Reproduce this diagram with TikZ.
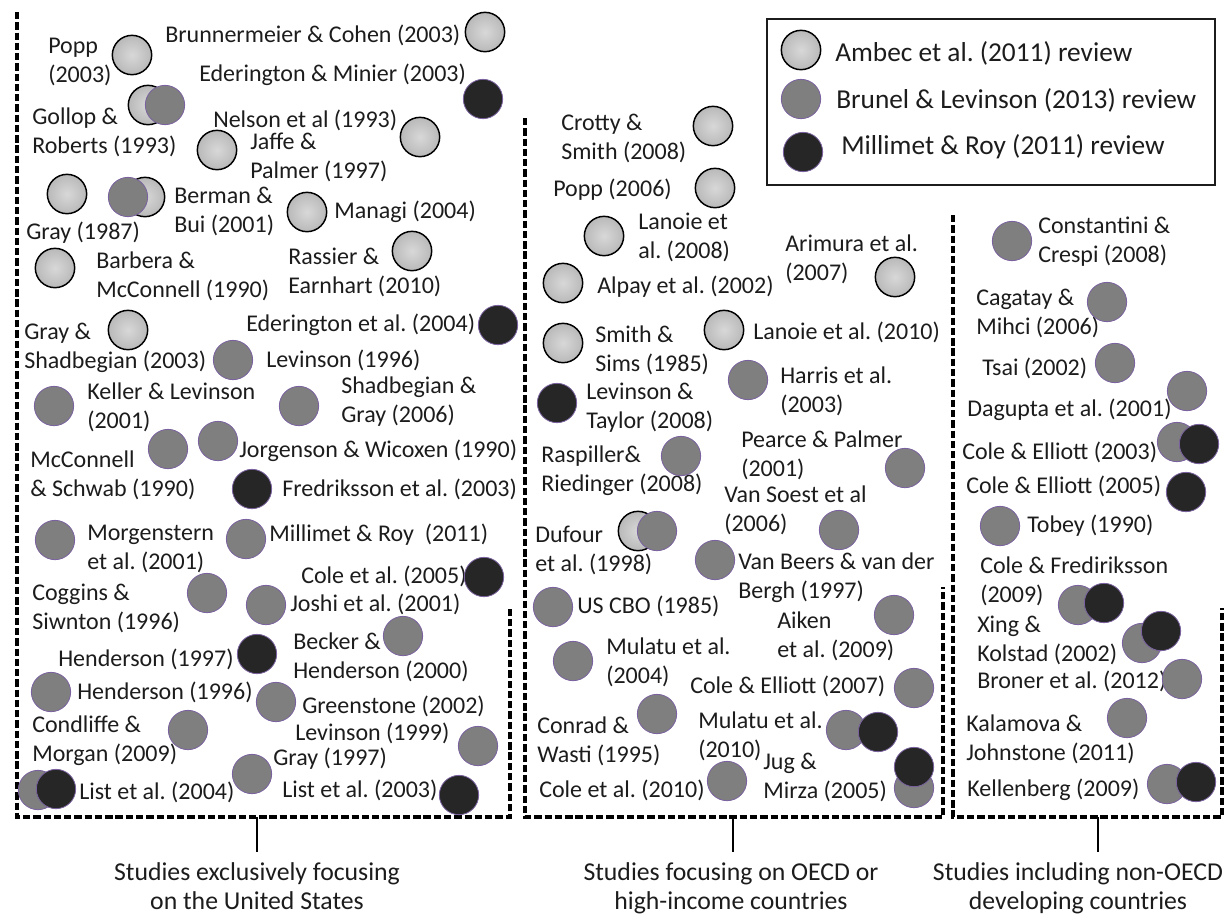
\documentclass[tikz,border=0pt]{standalone}
\usepackage{fontspec}
\setmainfont{Carlito}
\usepackage{xcolor}
\usepackage{tikz}
\definecolor{ambeclight}{HTML}{D8D8D8}
\definecolor{ambecedge}{HTML}{B9B9B9}
\definecolor{brunelgray}{HTML}{7F7F7F}
\definecolor{millimetdark}{HTML}{262626}
\definecolor{rimpurple}{HTML}{7A62A0}
\definecolor{inkgray}{HTML}{1C1C1C}
\frenchspacing

\tikzset{
  ambec/.style={circle, minimum size=29.5pt, inner sep=0pt, draw=black, line width=1.1pt,
    inner color=ambeclight, outer color=ambecedge},
  brunel/.style={circle, minimum size=29.5pt, inner sep=0pt, fill=brunelgray, draw=rimpurple, line width=0.6pt},
  millimet/.style={circle, minimum size=29.5pt, inner sep=0pt, fill=millimetdark, draw=rimpurple, line width=0.6pt},
  study/.style={anchor=west, inner sep=0pt, align=left, text=inkgray, font=\fontsize{18}{21.75}\selectfont},
  keytext/.style={anchor=west, inner sep=0pt, text=inkgray, font=\fontsize{20.5}{24}\selectfont},
  groupcap/.style={anchor=north, inner sep=0pt, align=center, text=inkgray, font=\fontsize{19.3}{22.2}\selectfont},
  groupframe/.style={line width=2.5pt, dash pattern=on 5.5pt off 2.2pt},
  grouptick/.style={line width=2pt},
}

\begin{document}
\begin{tikzpicture}[x=0.75pt, y=-0.75pt]
    \useasboundingbox (0,0) rectangle (1231,915);

    \draw[groupframe] (17,12) -- (17,817) -- (510,817) -- (510,608);
    \draw[groupframe] (525,118) -- (525,817) -- (943,817) -- (943,587);
    \draw[groupframe] (953,215) -- (953,817) -- (1222,817) -- (1222,608);

    \draw[line width=1pt, draw=inkgray] (767,19) rectangle (1215,185);
    \node[ambec] (key-ambec) at (801,50) {};
    \node[brunel] (key-brunel) at (801,99) {};
    \node[millimet] (key-millimet) at (803,152) {};
    \node[keytext] (key-ambec-txt) at (835,53) {Ambec et al. (2011) review};
    \node[keytext] (key-brunel-txt) at (836,100) {Brunel \& Levinson (2013) review};
    \node[keytext] (key-millimet-txt) at (841,147) {Millimet \& Roy (2011) review};

    \node[study] (brunner-txt) at (165,35) {Brunnermeier \& Cohen (2003)};
    \node[study] (popp03-txt) at (48,62) {Popp\\(2003)};
    \node[study] (ederminier-txt) at (199,75) {Ederington \& Minier (2003)};
    \node[study] (gollop-txt) at (32,132) {Gollop \&\\Roberts (1993)};
    \node[study] (nelson-txt) at (213,120) {Nelson et al (1993)};
    \node[study] (jaffe-txt) at (250,157) {Jaffe \&\\Palmer (1997)};
    \node[study] (gray87-txt) at (26,233) {Gray (1987)};
    \node[study] (berman-txt) at (174,211) {Berman \&\\Bui (2001)};
    \node[study] (managi-txt) at (334,212) {Managi (2004)};
    \node[study] (rassier-txt) at (288,272) {Rassier \&\\Earnhart (2010)};
    \node[study] (barbera-txt) at (96,276) {Barbera \&\\McConnell (1990)};
    \node[study] (grayshad-txt) at (24,348) {Gray \&\\Shadbegian (2003)};
    \node[study] (eder04-txt) at (246,325) {Ederington et al. (2004)};
    \node[study] (lev96-txt) at (266,360) {Levinson (1996)};
    \node[study] (keller-txt) at (87,407) {Keller \& Levinson\\(2001)};
    \node[study] (shadgray-txt) at (341,402) {Shadbegian \&\\Gray (2006)};
    \node[study] (mcconnell-txt) at (30,475) {McConnell\\\& Schwab (1990)};
    \node[study] (jorgenson-txt) at (239,451) {Jorgenson \& Wicoxen (1990)};
    \node[study] (fredrik-txt) at (282,489) {Fredriksson et al. (2003)};
    \node[study] (morgen-txt) at (87,549) {Morgenstern\\et al. (2001)};
    \node[study] (millroy-txt) at (269,535) {Millimet \& Roy~ (2011)};
    \node[study] (cole05-txt) at (301,576) {Cole et al. (2005)};
    \node[study] (coggins-txt) at (32,608) {Coggins \&\\Siwnton (1996)};
    \node[study] (joshi-txt) at (290,604) {Joshi et al. (2001)};
    \node[study] (becker-txt) at (293,657) {Becker \&\\Henderson (2000)};
    \node[study] (hend97-txt) at (58,659) {Henderson (1997)};
    \node[study] (hend96-txt) at (77,692) {Henderson (1996)};
    \node[study] (greenst-txt) at (302,706) {Greenstone (2002)};
    \node[study] (condliffe-txt) at (32,741) {Condliffe \&\\Morgan (2009)};
    \node[study] (lev99-txt) at (295,733) {Levinson (1999)};
    \node[study] (gray97-txt) at (273,759) {Gray (1997)};
    \node[study] (list04-txt) at (79,792) {List et al. (2004)};
    \node[study] (list03-txt) at (282,790) {List et al. (2003)};

    \node[ambec] (brunner) at (485,32) {};
    \node[ambec] (popp03) at (132,55) {};
    \node[millimet] (ederminier) at (483,99) {};
    \node[ambec] (gollop-a) at (148,105) {};
    \node[brunel] (gollop-b) at (165,105) {};
    \node[ambec] (nelson) at (420,137) {};
    \node[ambec] (jaffe) at (217,150) {};
    \node[ambec] (gray87) at (67,194) {};
    \node[ambec] (berman-a) at (145,197) {};
    \node[brunel] (berman-b) at (128,197) {};
    \node[ambec] (managi) at (307,212) {};
    \node[ambec] (rassier) at (412,251) {};
    \node[ambec] (barbera) at (55,268) {};
    \node[ambec] (grayshad) at (128,330) {};
    \node[millimet] (eder04) at (498,325) {};
    \node[brunel] (lev96) at (233,360) {};
    \node[brunel] (keller) at (54,406) {};
    \node[brunel] (shadgray) at (299,406) {};
    \node[brunel] (mcconnell) at (168,449) {};
    \node[brunel] (jorgenson) at (218,441) {};
    \node[millimet] (fredrik) at (252,489) {};
    \node[brunel] (morgen) at (55,540) {};
    \node[brunel] (millroy) at (246,539) {};
    \node[millimet] (cole05) at (484,577) {};
    \node[brunel] (coggins) at (207,593) {};
    \node[brunel] (joshi) at (266,605) {};
    \node[brunel] (becker) at (403,636) {};
    \node[millimet] (hend97) at (257,654) {};
    \node[brunel] (hend96) at (51,692) {};
    \node[brunel] (greenst) at (276,702) {};
    \node[brunel] (condliffe) at (188,730) {};
    \node[brunel] (lev99) at (478,746) {};
    \node[brunel] (gray97) at (252,774) {};
    \node[brunel] (list04-b) at (38,790) {};
    \node[millimet] (list04-m) at (56,789) {};
    \node[millimet] (list03) at (459,795) {};

    \node[study] (crotty-txt) at (561,138) {Crotty \&\\Smith (2008)};
    \node[study] (popp06-txt) at (553,190) {Popp (2006)};
    \node[study] (lanoie08-txt) at (638,237) {Lanoie et\\al. (2008)};
    \node[study] (arimura-txt) at (785,259) {Arimura et al.\\(2007)};
    \node[study] (alpay-txt) at (597,287) {Alpay et al. (2002)};
    \node[study] (lanoie10-txt) at (753,332) {Lanoie et al. (2010)};
    \node[study] (smith-txt) at (595,350) {Smith \&\\Sims (1985)};
    \node[study] (harris-txt) at (780,391) {Harris et al.\\(2003)};
    \node[study] (levtaylor-txt) at (586,408) {Levinson \&\\Taylor (2008)};
    \node[study] (raspiller-txt) at (541,471) {Raspiller\&\\Riedinger (2008)};
    \node[study] (pearce-txt) at (741,455) {Pearce \& Palmer\\(2001)};
    \node[study] (vansoest-txt) at (724,510) {Van Soest et al\\(2006)};
    \node[study] (dufour-txt) at (535,550) {Dufour\\et al. (1998)};
    \node[study] (vanbeers-txt) at (738,578) {Van Beers \& van der\\Bergh (1997)};
    \node[study] (uscbo-txt) at (577,606) {US CBO (1985)};
    \node[study] (aiken-txt) at (777,636) {Aiken\\et al. (2009)};
    \node[study] (mulatu04-txt) at (606,662) {Mulatu et al.\\(2004)};
    \node[study] (cole07-txt) at (690,686) {Cole \& Elliott (2007)};
    \node[study] (conrad-txt) at (537,741) {Conrad \&\\Wasti (1995)};
    \node[study] (mulatu10-txt) at (698,736) {Mulatu et al.\\(2010)};
    \node[study] (jug-txt) at (763,777) {Jug \&\\Mirza (2005)};
    \node[study] (cole10-txt) at (539,790) {Cole et al. (2010)};

    \node[ambec] (crotty) at (713,126) {};
    \node[ambec] (popp06) at (715,188) {};
    \node[ambec] (lanoie08) at (604,236) {};
    \node[ambec] (arimura) at (895,277) {};
    \node[ambec] (alpay) at (563,283) {};
    \node[ambec] (lanoie10) at (724,330) {};
    \node[ambec] (smith) at (563,343) {};
    \node[brunel] (harris) at (748,380) {};
    \node[millimet] (levtaylor) at (557,403) {};
    \node[brunel] (raspiller) at (681,456) {};
    \node[brunel] (pearce) at (905,468) {};
    \node[brunel] (vansoest) at (839,530) {};
    \node[ambec] (dufour-a) at (638,531) {};
    \node[brunel] (dufour-b) at (657,531) {};
    \node[brunel] (vanbeers) at (715,560) {};
    \node[brunel] (uscbo) at (553,607) {};
    \node[brunel] (aiken) at (894,615) {};
    \node[brunel] (mulatu04) at (573,661) {};
    \node[brunel] (cole07) at (914,688) {};
    \node[brunel] (conrad) at (657,714) {};
    \node[brunel] (mulatu10-b) at (846,730) {};
    \node[millimet] (mulatu10-m) at (878,732) {};
    \node[brunel] (jug-b) at (914,788) {};
    \node[millimet] (jug-m) at (914,767) {};
    \node[brunel] (cole10) at (727,781) {};

    \node[study] (constant-txt) at (1038,242) {Constantini \&\\Crespi (2008)};
    \node[study] (cagatay-txt) at (976,313) {Cagatay \&\\Mihci (2006)};
    \node[study] (tsai-txt) at (982,368) {Tsai (2002)};
    \node[study] (dagupta-txt) at (967,410) {Dagupta et al. (2001)};
    \node[study] (coleell03-txt) at (962,452) {Cole \& Elliott (2003)};
    \node[study] (coleell05-txt) at (966,486) {Cole \& Elliott (2005)};
    \node[study] (tobey-txt) at (1027,526) {Tobey (1990)};
    \node[study] (colefred-txt) at (980,581) {Cole \& Frediriksson\\(2009)};
    \node[study] (xing-txt) at (977,640) {Xing \&\\Kolstad (2002)};
    \node[study] (broner-txt) at (977,681) {Broner et al. (2012)};
    \node[study] (kalamova-txt) at (966,739) {Kalamova \&\\Johnstone (2011)};
    \node[study] (kellen-txt) at (967,790) {Kellenberg (2009)};

    \node[brunel] (constant) at (1012,241) {};
    \node[brunel] (cagatay) at (1107,302) {};
    \node[brunel] (tsai) at (1115,363) {};
    \node[brunel] (dagupta) at (1187,391) {};
    \node[brunel] (coleell03-b) at (1177,442) {};
    \node[millimet] (coleell03-m) at (1199,444) {};
    \node[millimet] (coleell05) at (1186,492) {};
    \node[brunel] (tobey) at (1000,526) {};
    \node[brunel] (colefred-b) at (1078,605) {};
    \node[millimet] (colefred-m) at (1104,603) {};
    \node[brunel] (xing-b) at (1142,643) {};
    \node[millimet] (xing-m) at (1161,631) {};
    \node[brunel] (broner) at (1182,679) {};
    \node[brunel] (kalamova) at (1127,718) {};
    \node[brunel] (kellen-b) at (1167,784) {};
    \node[millimet] (kellen-m) at (1196,782) {};

    \coordinate (us-tick) at (257,817);
    \coordinate (us-tick-end) at (257,852);
    \coordinate (oecd-tick) at (733,817);
    \coordinate (oecd-tick-end) at (733,852);
    \coordinate (dev-tick) at (1098,817);
    \coordinate (dev-tick-end) at (1098,852);
    \draw[grouptick] (us-tick) -- (us-tick-end);
    \draw[grouptick] (oecd-tick) -- (oecd-tick-end);
    \draw[grouptick] (dev-tick) -- (dev-tick-end);
    \node[groupcap] (us-cap) at (257,862) {Studies exclusively focusing\\on the United States};
    \node[groupcap] (oecd-cap) at (731,862) {Studies focusing on OECD or\\high-income countries};
    \node[groupcap] (dev-cap) at (1078,862) {Studies including non-OECD\\developing countries};
  \end{tikzpicture}
\end{document}
